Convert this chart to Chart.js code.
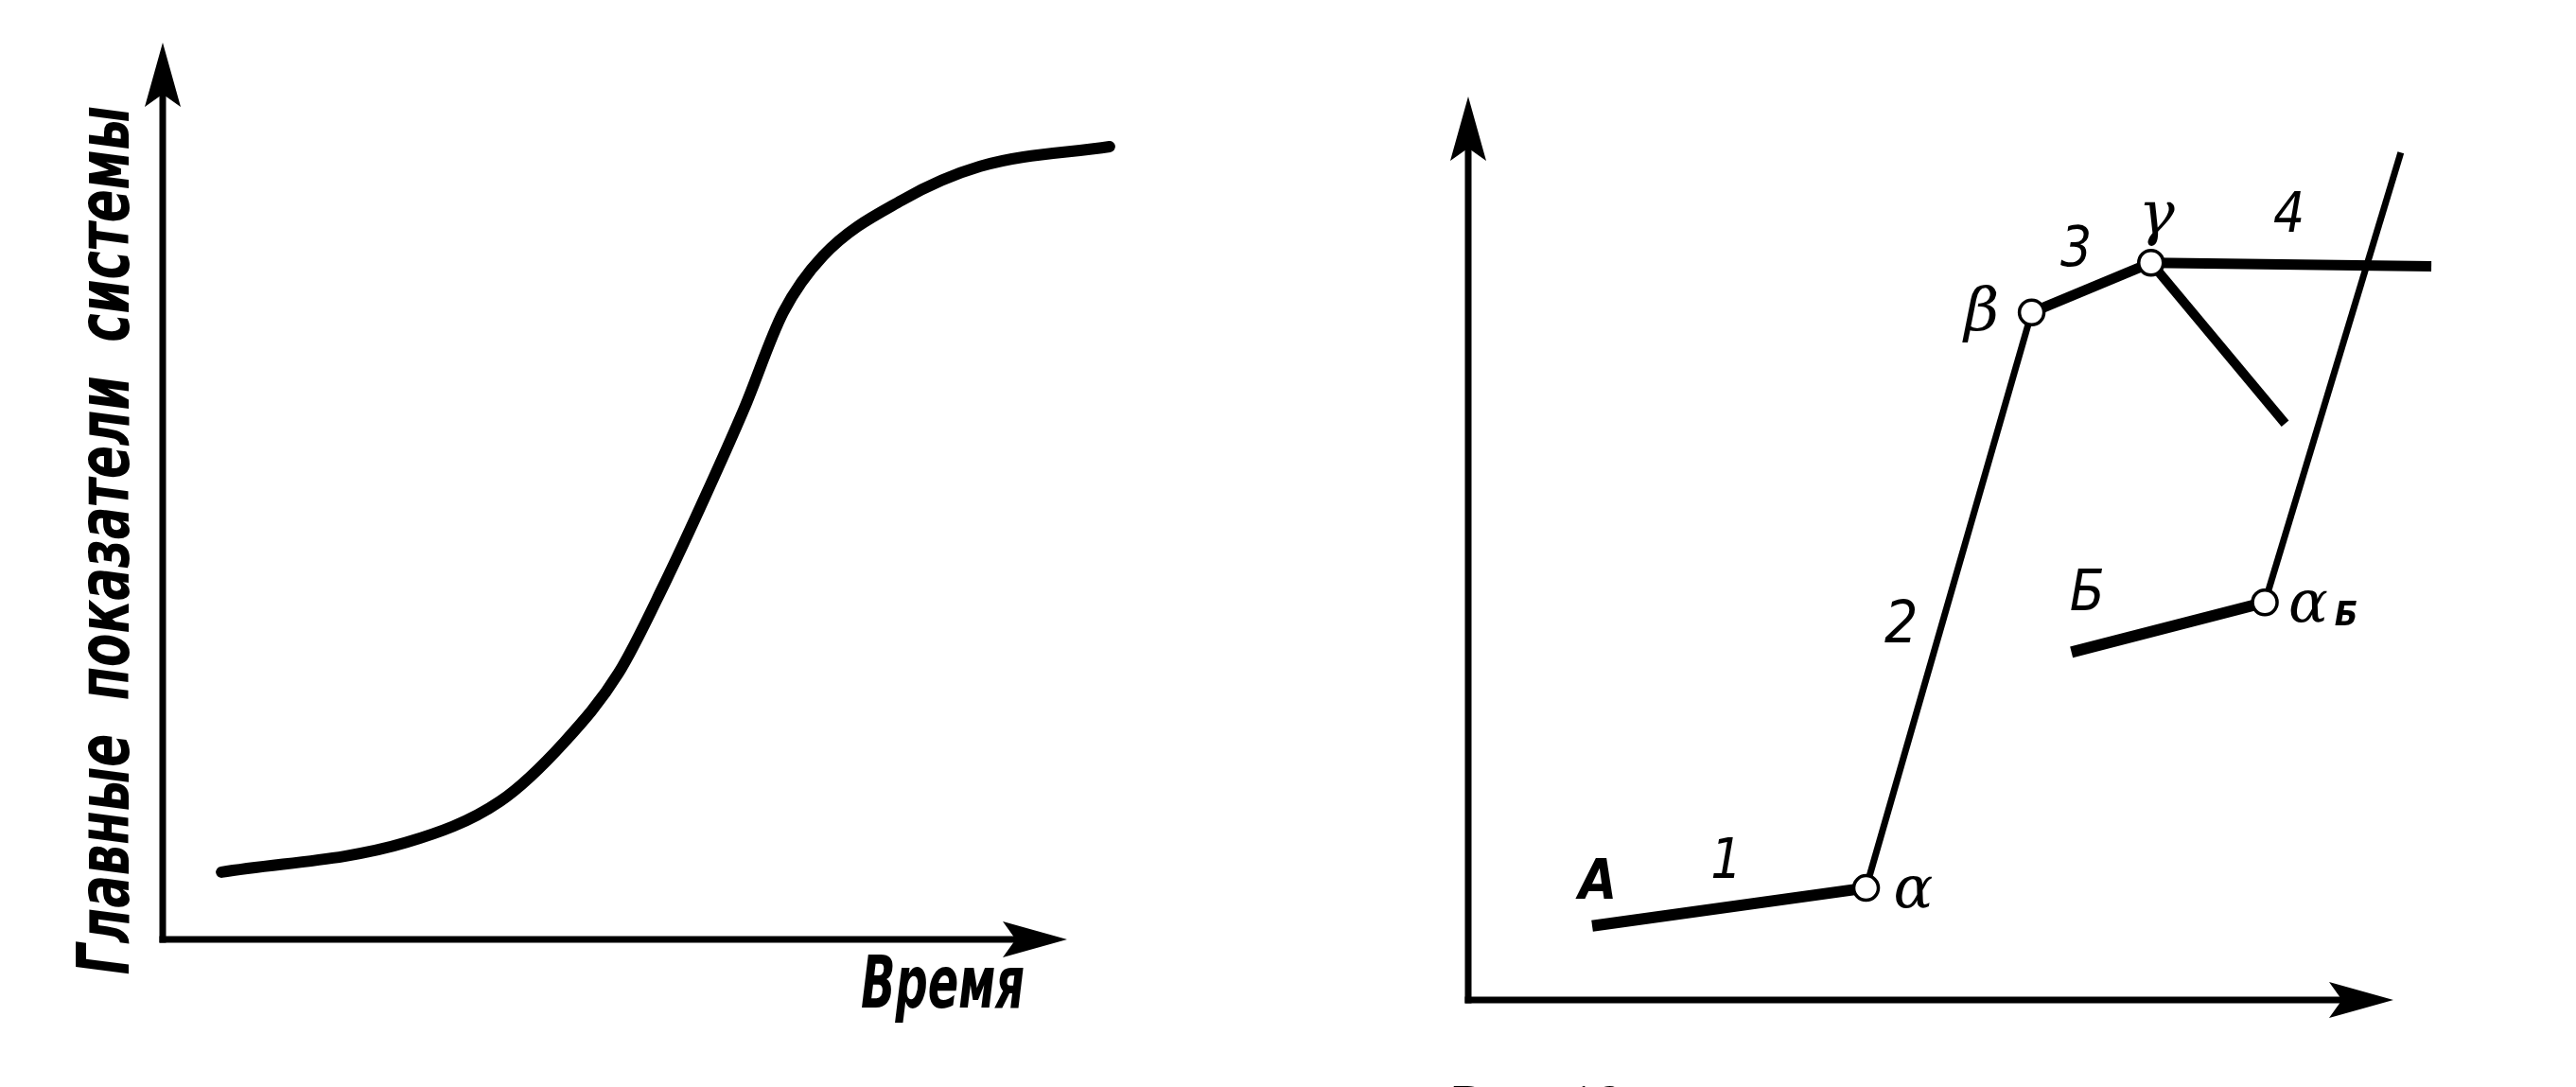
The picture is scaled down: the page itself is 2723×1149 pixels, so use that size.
<!DOCTYPE html>
<html><head><meta charset="utf-8">
<script src="https://cdn.jsdelivr.net/npm/chart.js@4.4.1/dist/chart.umd.min.js"></script>
<style>
html,body{margin:0;padding:0;background:#fff;width:2723px;height:1149px;overflow:hidden;}
canvas{position:absolute;top:0;}
#c1{left:0px} #c2{left:1400px}
</style></head><body>
<canvas id="c1" width="1400" height="1149"></canvas>
<canvas id="c2" width="1323" height="1149"></canvas>
<script>
// ---------- Left chart data (arbitrary units: time 0..100, indicator 0..100) ----------
const timeX = [6.5, 26.9, 37.3, 44.4, 50.4, 55.6, 59.9, 64.3, 68.6, 73.0, 81.7, 90.4, 104.7];
const indicatorY = [7.5, 10.8, 15.4, 22.0, 29.7, 39.9, 49.2, 59.2, 69.9, 76.2, 82.4, 86.2, 88.4];
const leftXTitle = 'Время';
const leftYTitle = 'Главные  показатели  системы';

// ---------- Right chart data ----------
const nodeNames = ['A', 'α', 'β', 'γ', 'γ-4', 'γ-end', 'Б', 'αБ', 'αБ-top'];
const nodeX = [13.4, 43.0, 60.9, 73.8, 104.1, 88.3, 65.2, 86.1, 100.8];
const nodeY = [8.2, 12.4, 76.1, 81.6, 81.2, 63.8, 38.5, 44.0, 93.8];
const segFrom = [0, 1, 2, 3, 3, 6, 7];
const segTo = [1, 2, 3, 4, 5, 7, 8];
const circleNodes = [1, 2, 3, 7];
const labelTexts = ['A', '1', 'α', '2', 'β', '3', 'γ', '4', 'Б', 'α', 'Б'];
const labelX = [14.0, 27.9, 48.1, 46.8, 55.5, 65.7, 74.4, 88.7, 66.9, 90.8, 94.9];
const labelY = [12.8, 15.1, 12.0, 41.3, 75.9, 82.8, 86.6, 86.6, 44.8, 43.6, 42.4];
const captionText = 'Рис. 19';

// ---------- styles ----------
const segWidths = [12, 7, 11, 11, 10, 12, 7];
const sansIt = '"Liberation Sans Narrow", "DejaVu Sans Condensed", sans-serif';
const labelFonts = [
  'bold italic 58px ' + sansIt,
  'italic 58px ' + sansIt,
  'italic 62px "DejaVu Serif", serif',
  'italic 62px ' + sansIt,
  'italic 64px "DejaVu Serif", serif',
  'italic 58px ' + sansIt,
  'italic 64px "DejaVu Serif", serif',
  'italic 58px ' + sansIt,
  'italic 60px ' + sansIt,
  'italic 62px "DejaVu Serif", serif',
  'bold italic 36px ' + sansIt
];
const titleFont = 'bold italic 76px ' + sansIt;

function drawArrowAxis(ctx, x0, y0, x1, y1, lw, headLen, headW) {
  ctx.save();
  ctx.strokeStyle = '#000'; ctx.fillStyle = '#000';
  ctx.lineWidth = lw; ctx.lineCap = 'square';
  const ang = Math.atan2(y1 - y0, x1 - x0);
  const bx = x1 - Math.cos(ang) * headLen * 0.7, by = y1 - Math.sin(ang) * headLen * 0.7;
  ctx.beginPath(); ctx.moveTo(x0, y0); ctx.lineTo(bx, by); ctx.stroke();
  ctx.translate(x1, y1); ctx.rotate(ang);
  ctx.beginPath();
  ctx.moveTo(0, 0);
  ctx.lineTo(-headLen, headW / 2);
  ctx.lineTo(-headLen * 0.8, 0);
  ctx.lineTo(-headLen, -headW / 2);
  ctx.closePath(); ctx.fill();
  ctx.restore();
}

const axesPlugin = {
  id: 'arrowAxes',
  beforeDatasetsDraw(chart, args, opts) {
    const xs = chart.scales.x, ys = chart.scales.y, ctx = chart.ctx;
    const ox = xs.getPixelForValue(0), oy = ys.getPixelForValue(0);
    drawArrowAxis(ctx, ox, oy, ox, ys.getPixelForValue(100), opts.lw, 68, 38);
    drawArrowAxis(ctx, ox, oy, xs.getPixelForValue(100), oy, opts.lw, 68, 38);
  }
};

// ---------- Left chart ----------
const leftTitles = {
  id: 'leftTitles',
  afterDraw(chart) {
    const xs = chart.scales.x, ys = chart.scales.y, ctx = chart.ctx;
    ctx.save();
    ctx.fillStyle = '#000';
    ctx.font = titleFont;
    ctx.textBaseline = 'alphabetic';
    let w = ctx.measureText(leftXTitle).width;
    ctx.save();
    ctx.translate(xs.getPixelForValue(77.2), ys.getPixelForValue(-7.6));
    ctx.scale(173 / w, 1);
    ctx.textAlign = 'left';
    ctx.fillText(leftXTitle, 0, 0);
    ctx.restore();
    w = ctx.measureText(leftYTitle).width;
    ctx.save();
    ctx.translate(xs.getPixelForValue(-3.8), ys.getPixelForValue(44.5));
    ctx.rotate(-Math.PI / 2);
    ctx.scale(918 / w, 1);
    ctx.textAlign = 'center';
    ctx.fillText(leftYTitle, 0, 0);
    ctx.restore();
    ctx.restore();
  }
};

new Chart(document.getElementById('c1'), {
  type: 'line',
  data: {
    datasets: [{
      data: timeX.map((x, i) => ({ x, y: indicatorY[i] })),
      borderColor: '#000', borderWidth: 12, borderCapStyle: 'round', borderJoinStyle: 'round',
      pointRadius: 0, fill: false, cubicInterpolationMode: 'monotone', clip: false
    }]
  },
  options: {
    responsive: false, animation: false, devicePixelRatio: 1,
    layout: { padding: { left: 172, right: 176.4, top: 45, bottom: 156 } },
    scales: {
      x: { type: 'linear', min: 0, max: 110, display: false },
      y: { type: 'linear', min: 0, max: 100, display: false }
    },
    plugins: { legend: { display: false }, tooltip: { enabled: false }, arrowAxes: { lw: 7 } }
  },
  plugins: [axesPlugin, leftTitles]
});

// ---------- Right chart ----------
const rightLabels = {
  id: 'rightLabels',
  afterDraw(chart) {
    const xs = chart.scales.x, ys = chart.scales.y, ctx = chart.ctx;
    ctx.save();
    ctx.fillStyle = '#000';
    ctx.textAlign = 'center';
    ctx.textBaseline = 'middle';
    labelTexts.forEach((t, i) => {
      ctx.font = labelFonts[i];
      ctx.fillText(t, xs.getPixelForValue(labelX[i]), ys.getPixelForValue(labelY[i]));
    });
    // caption, cut by the bottom edge as in the reference
    ctx.font = '60px "Liberation Serif", serif';
    ctx.textAlign = 'left';
    ctx.textBaseline = 'alphabetic';
    ctx.fillText(captionText, 135, 1187);
    ctx.restore();
  }
};

const segDatasets = segFrom.map((f, i) => ({
  data: [{ x: nodeX[f], y: nodeY[f] }, { x: nodeX[segTo[i]], y: nodeY[segTo[i]] }],
  borderColor: '#000', borderWidth: segWidths[i], borderCapStyle: 'butt',
  pointRadius: 0, fill: false, order: 2, clip: false
}));
const nodeDataset = {
  data: circleNodes.map(k => ({ x: nodeX[k], y: nodeY[k] })),
  showLine: false, pointRadius: 13, pointBackgroundColor: '#fff',
  pointBorderColor: '#000', pointBorderWidth: 3.5, order: 0, clip: false
};

new Chart(document.getElementById('c2'), {
  type: 'line',
  data: { datasets: [nodeDataset, ...segDatasets] },
  options: {
    responsive: false, animation: false, devicePixelRatio: 1,
    layout: { padding: { left: 152, right: 95.2, top: 102, bottom: 92 } },
    scales: {
      x: { type: 'linear', min: 0, max: 110, display: false },
      y: { type: 'linear', min: 0, max: 100, display: false }
    },
    plugins: { legend: { display: false }, tooltip: { enabled: false }, arrowAxes: { lw: 7 } }
  },
  plugins: [axesPlugin, rightLabels]
});
</script>
</body></html>
